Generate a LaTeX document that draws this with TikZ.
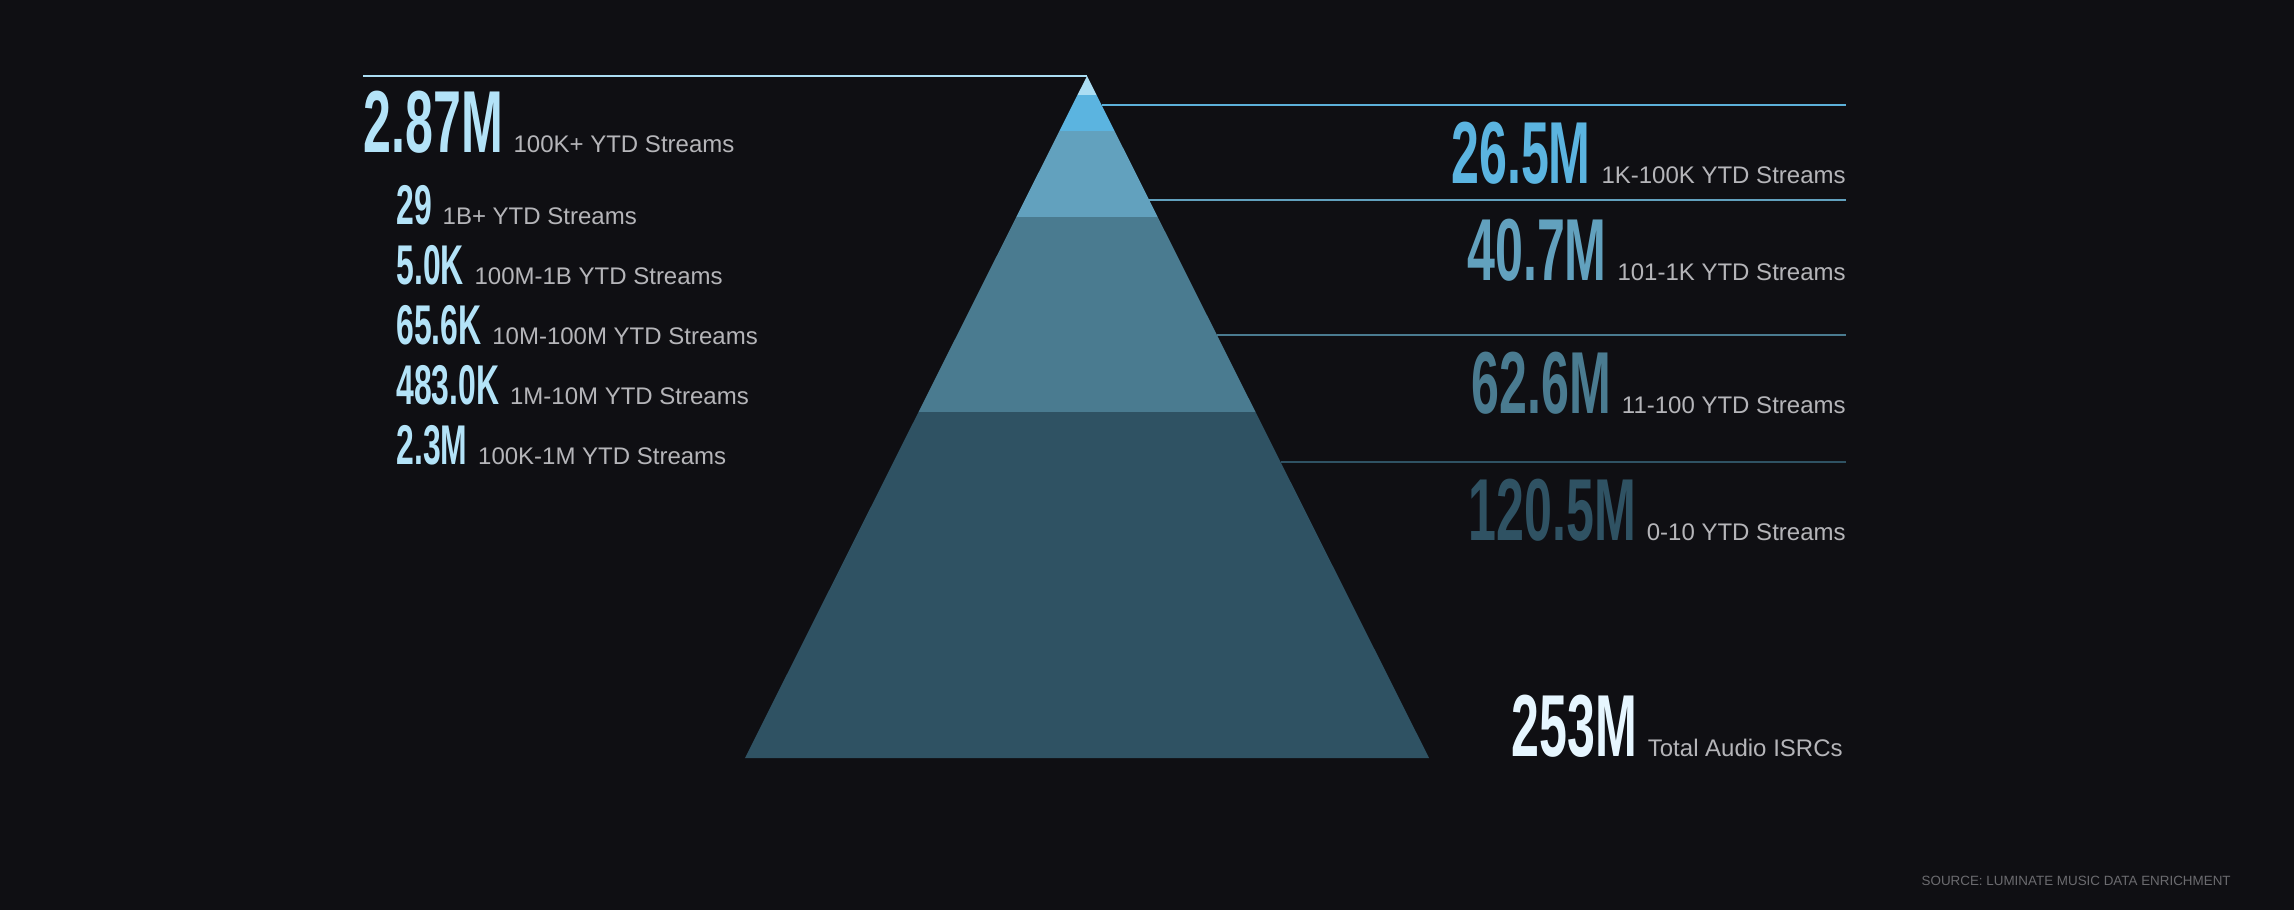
\documentclass[tikz,border=0pt]{standalone}
\usepackage{fontspec}
\setmainfont{Liberation Sans}
\newfontfamily\numfont[FakeStretch=0.57]{Liberation Sans}
\usepackage{tikz}
\definecolor{bgdark}{HTML}{0F0F13}
\definecolor{tipblue}{HTML}{ABDDF3}
\definecolor{skyblue}{HTML}{5BB4E0}
\definecolor{midblue}{HTML}{62A1BE}
\definecolor{steelblue}{HTML}{4A7B90}
\definecolor{deepblue}{HTML}{2F5263}
\definecolor{numlight}{HTML}{B3E3F8}
\definecolor{totalwhite}{HTML}{E6F6FF}
\definecolor{lblgrey}{HTML}{B5B5B9}
\definecolor{srcgrey}{HTML}{6B6B6F}

\begin{document}
\begin{tikzpicture}[x=0.5pt,y=0.5pt,yscale=-1,xscale=1,
    bignum/.style={inner sep=0pt, font=\numfont\bfseries\fontsize{44}{44}\selectfont},
    smallnum/.style={inner sep=0pt, anchor=base west, text=numlight, font=\numfont\bfseries\fontsize{28}{28}\selectfont},
    lbl/.style={inner sep=0pt, text=lblgrey, font=\fontsize{12}{14}\selectfont},
    leader/.style={line width=1pt}]
    %Shape: Background
    \fill[bgdark] (0,0) rectangle (2294,910);
    \useasboundingbox (0,0) rectangle (2294,910);

    %Shape: Pyramid bands (apex at 1087,76, half width 342 at the base)
    \foreach \ya/\yb/\col in {76/95/tipblue, 95/131/skyblue, 131/217/midblue, 217/412/steelblue, 412/758/deepblue}
      \fill[\col] ({1087-(\ya-76)*0.5015},\ya) -- ({1087+(\ya-76)*0.5015},\ya) -- ({1087+(\yb-76)*0.5015},\yb) -- ({1087-(\yb-76)*0.5015},\yb) -- cycle;

    \coordinate (apex) at (1087,76);
    \coordinate (topleft) at (363,76);
    \coordinate (e1) at ({1087+(105-76)*0.5015},105);
    \coordinate (e2) at ({1087+(200-76)*0.5015},200);
    \coordinate (e3) at ({1087+(335-76)*0.5015},335);
    \coordinate (e4) at ({1087+(462-76)*0.5015},462);
    \coordinate (r1) at (1846,105);
    \coordinate (r2) at (1846,200);
    \coordinate (r3) at (1846,335);
    \coordinate (r4) at (1846,462);

    %Straight Lines
    \draw[leader, tipblue] (topleft) -- (apex);
    \draw[leader, skyblue!80!midblue] (e1) -- (r1);
    \draw[leader, midblue] (e2) -- (r2);
    \draw[leader, steelblue] (e3) -- (r3);
    \draw[leader, deepblue] (e4) -- (r4);

    % Text Node
    \node[bignum, anchor=base west, text=numlight] (n287) at (363,152) {2.87M};
    \node[lbl, anchor=base west] (l287) at ([xshift=5pt]n287.base east) {100K+ YTD Streams};
    % Text Node
    \node[smallnum] (n29) at (396,224) {29};
    \node[lbl, anchor=base west] (l29) at ([xshift=5pt]n29.base east) {1B+ YTD Streams};
    % Text Node
    \node[smallnum] (n50) at (396,284) {5.0K};
    \node[lbl, anchor=base west] (l50) at ([xshift=5pt]n50.base east) {100M-1B YTD Streams};
    % Text Node
    \node[smallnum] (n656) at (396,344) {65.6K};
    \node[lbl, anchor=base west] (l656) at ([xshift=5pt]n656.base east) {10M-100M YTD Streams};
    % Text Node
    \node[smallnum] (n483) at (396,404) {483.0K};
    \node[lbl, anchor=base west] (l483) at ([xshift=5pt]n483.base east) {1M-10M YTD Streams};
    % Text Node
    \node[smallnum] (n23) at (396,464) {2.3M};
    \node[lbl, anchor=base west] (l23) at ([xshift=5pt]n23.base east) {100K-1M YTD Streams};

    % Text Node
    \node[lbl, anchor=base east] (l265) at (1846,183) {1K-100K YTD Streams};
    \node[bignum, anchor=base east, text=skyblue] (n265) at ([xshift=-5pt]l265.base west) {26.5M};
    % Text Node
    \node[lbl, anchor=base east] (l407) at (1846,280) {101-1K YTD Streams};
    \node[bignum, anchor=base east, text=midblue] (n407) at ([xshift=-5pt]l407.base west) {40.7M};
    % Text Node
    \node[lbl, anchor=base east] (l626) at (1846,413) {11-100 YTD Streams};
    \node[bignum, anchor=base east, text=steelblue] (n626) at ([xshift=-5pt]l626.base west) {62.6M};
    % Text Node
    \node[lbl, anchor=base east] (l1205) at (1846,540) {0-10 YTD Streams};
    \node[bignum, anchor=base east, text=deepblue] (n1205) at ([xshift=-5pt]l1205.base west) {120.5M};
    % Text Node
    \node[lbl, anchor=base east] (ltot) at (1843,756) {Total Audio ISRCs};
    \node[bignum, anchor=base east, text=totalwhite] (ntot) at ([xshift=-5pt]ltot.base west) {253M};

    % Text Node
    \node[inner sep=0pt, anchor=base east, text=srcgrey, font=\fontsize{6.7}{8}\selectfont] (src) at (2231,885) {SOURCE: LUMINATE MUSIC DATA ENRICHMENT};
\end{tikzpicture}
\end{document}
